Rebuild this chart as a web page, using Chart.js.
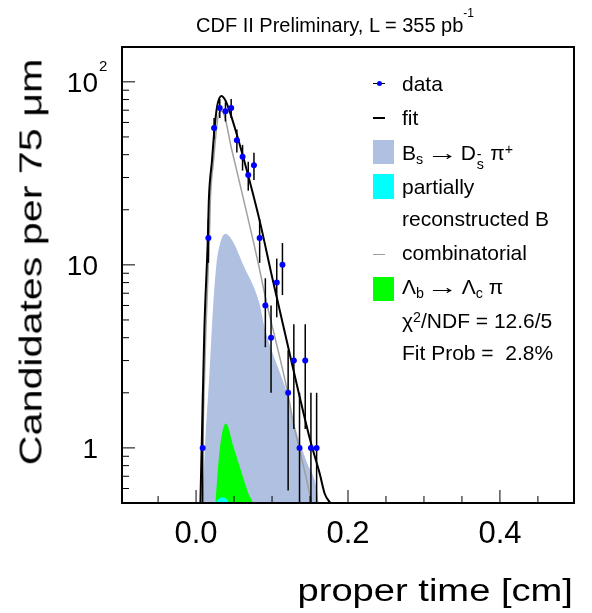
<!DOCTYPE html>
<html>
<head>
<meta charset="utf-8">
<script src="https://cdn.jsdelivr.net/npm/chart.js@4.4.0/dist/chart.umd.min.js"></script>
<style>
  html, body { margin: 0; padding: 0; background: #fff; }
  #wrap { position: relative; width: 592px; height: 613px; font-family: "Liberation Sans", Arial, sans-serif; color: #000; overflow: hidden; }
  #wrap canvas { position: absolute; left: 0; top: 0; }
  .txt { position: absolute; white-space: nowrap; line-height: 1; }
  .txt sub, .txt sup { line-height: 0; font-size: 0.68em; }
  .txt sub { vertical-align: -0.3em; }
  .txt sup { vertical-align: 0.45em; }
  .ss { display: inline-block; position: relative; width: 0.4em; }
  .ss .u { position: absolute; left: 0.05em; top: -0.95em; font-size: 0.68em; }
  .ss .d { position: absolute; left: 0.05em; top: -0.25em; font-size: 0.68em; }
  .arr { display: inline-block; transform: scaleX(1.5); margin: 0 0.12em; }
  .key { position: absolute; }
</style>
</head>
<body>
<div id="wrap"><canvas id="c" width="592" height="613"></canvas></div>
<script>
// ---- data (proper time in cm, candidates per 75 um bin) ----
const binT = [0.0087, 0.0162, 0.0237, 0.0312, 0.0387, 0.0462, 0.0537, 0.0612, 0.0687, 0.0762, 0.0837,
              0.0912, 0.0987, 0.1062, 0.1137, 0.1212, 0.1287, 0.1362, 0.1437, 0.1512, 0.1587];
const counts = [1, 14, 56, 72, 69, 72, 48, 39, 31, 35, 14, 6, 4, 8, 10, 2, 3, 1, 3, 1, 1];

// fit (total)
const fitT = [0.0045, 0.0057, 0.0079, 0.0109, 0.0155, 0.0168, 0.021, 0.0241, 0.0276, 0.0333, 0.0385,
              0.0451, 0.0539, 0.0626, 0.0836, 0.1003, 0.1253, 0.1503, 0.1629, 0.1695, 0.176, 0.19];
const fitN = [0.3, 0.5, 1.25, 4.4, 14, 22.5, 37.3, 54.5, 73, 83.8, 79.4,
              67.2, 51.1, 38.1, 17.5, 8.5, 3.0, 1.1, 0.72, 0.56, 0.505, 0.45];

// combinatorial background
const combT = [0.0052, 0.0066, 0.0092, 0.0129, 0.0175, 0.0188, 0.0231, 0.0267, 0.0302, 0.034, 0.0473,
               0.0526, 0.0628, 0.081, 0.0911, 0.1209, 0.1283, 0.1371, 0.148, 0.1525, 0.156];
const combN = [0.3, 0.5, 1.25, 4.4, 14, 22.5, 37.3, 54.5, 68, 69, 42,
               34, 22.5, 10.6, 6.7, 1.98, 1.35, 0.95, 0.6, 0.48, 0.35];

// Bs -> Ds pi signal
const bsT = [0.0072, 0.0083, 0.0122, 0.0175, 0.022, 0.0265, 0.031, 0.0385, 0.0477, 0.0626, 0.0823,
             0.0911, 0.1108, 0.1196, 0.1283, 0.145, 0.159, 0.1625];
const bsN = [0.4, 0.5, 1.1, 2.5, 5.5, 9.8, 12.8, 14.8, 13.6, 9.9, 6.4,
             4.4, 2.55, 2.0, 1.4, 0.85, 0.59, 0.45];

// partially reconstructed B
const prT = [0.024, 0.0263, 0.031, 0.035, 0.039, 0.0429, 0.045];
const prN = [0.45, 0.5, 0.53, 0.538, 0.53, 0.5, 0.45];

// Lambda_b -> Lambda_c pi
const lbT = [0.0235, 0.0254, 0.0297, 0.0342, 0.0394, 0.0494, 0.0605, 0.0691, 0.0749, 0.077];
const lbN = [0.4, 0.49, 0.855, 1.2, 1.36, 1.01, 0.72, 0.56, 0.49, 0.42];

// axis ticks
const xMajor = [0, 0.2, 0.4];
const xMajorLabels = ['0.0', '0.2', '0.4'];
const xMinor = [-0.05, 0.05, 0.1, 0.15, 0.25, 0.3, 0.35, 0.45];
const yMajor = [1, 10, 100];
const yMajorLabels = ['1', '10', '10'];
const yMinor = [0.6, 0.7, 0.8, 0.9, 2, 3, 4, 5, 6, 7, 8, 9, 20, 30, 40, 50, 60, 70, 80, 90];

// ---- helpers ----
const pts = (xs, ys) => xs.map((x, i) => ({ x: x, y: ys[i] }));

function curve(label, xs, ys, opts) {
    return Object.assign({
        type: 'line',
        label: label,
        data: pts(xs, ys),
        pointRadius: 0,
        borderWidth: 0,
        cubicInterpolationMode: 'monotone',
        fill: false
    }, opts);
}

// error bars drawn under the data dots
const errorBars = {
    id: 'errorBars',
    beforeDatasetDraw(chart, args) {
        if (args.index !== 0) return;
        const { ctx, chartArea: a, scales: { x, y } } = chart;
        ctx.save();
        ctx.beginPath();
        ctx.rect(a.left, a.top, a.width, a.height);
        ctx.clip();
        ctx.strokeStyle = '#000';
        ctx.lineWidth = 1.5;
        binT.forEach((t, i) => {
            const n = counts[i], e = Math.sqrt(n);
            const px = x.getPixelForValue(t);
            const lo = n - e > 0 ? y.getPixelForValue(n - e) : a.bottom;
            const hi = y.getPixelForValue(n + e);
            ctx.beginPath();
            ctx.moveTo(px, lo);
            ctx.lineTo(px, hi);
            ctx.stroke();
        });
        ctx.restore();
    }
};

// ROOT style frame with inward ticks
const frame = {
    id: 'frame',
    afterDraw(chart) {
        const { ctx, chartArea: a, scales: { x, y } } = chart;
        ctx.save();
        ctx.strokeStyle = '#000';
        ctx.lineWidth = 1;
        ctx.beginPath();
        xMajor.forEach(v => { const p = x.getPixelForValue(v); ctx.moveTo(p, a.bottom); ctx.lineTo(p, a.bottom - 13); });
        xMinor.forEach(v => { const p = x.getPixelForValue(v); ctx.moveTo(p, a.bottom); ctx.lineTo(p, a.bottom - 7); });
        yMajor.forEach(v => { const p = y.getPixelForValue(v); ctx.moveTo(a.left, p); ctx.lineTo(a.left + 13, p); });
        yMinor.forEach(v => { const p = y.getPixelForValue(v); ctx.moveTo(a.left, p); ctx.lineTo(a.left + 7, p); });
        ctx.stroke();

        ctx.lineWidth = 2;
        ctx.strokeRect(a.left, a.top, a.width, a.height);

        // tick labels
        ctx.fillStyle = '#000';
        ctx.font = '31px "Liberation Sans", Arial, sans-serif';
        ctx.textAlign = 'center';
        ctx.textBaseline = 'alphabetic';
        xMajor.forEach((v, i) => ctx.fillText(xMajorLabels[i], x.getPixelForValue(v), a.bottom + 40));

        ctx.font = '28px "Liberation Sans", Arial, sans-serif';
        ctx.textAlign = 'right';
        yMajor.forEach((v, i) => {
            const p = y.getPixelForValue(v);
            ctx.fillText(yMajorLabels[i], a.left - 24, p + 10);
            if (v === 100) {
                ctx.font = '15px "Liberation Sans", Arial, sans-serif';
                ctx.textAlign = 'left';
                ctx.fillText('2', a.left - 23, p - 11);
                ctx.font = '28px "Liberation Sans", Arial, sans-serif';
                ctx.textAlign = 'right';
            }
        });
        ctx.restore();
    }
};

const ctx = document.getElementById('c').getContext('2d');
new Chart(ctx, {
    type: 'scatter',
    data: {
        datasets: [
            { type: 'scatter', label: 'data', data: pts(binT, counts), pointRadius: 3,
              pointBackgroundColor: '#0000ff', pointBorderWidth: 0, order: 1 },
            curve('fit', fitT, fitN, { borderColor: '#000', borderWidth: 2, order: 2 }),
            curve('combinatorial', combT, combN, { borderColor: '#a0a0a0', borderWidth: 1.5, order: 3 }),
            curve('partially reconstructed B', prT, prN, { backgroundColor: '#00ffff', fill: 'start', order: 4 }),
            curve('Lambda_b', lbT, lbN, { backgroundColor: '#00ff00', fill: 'start', order: 5 }),
            curve('Bs', bsT, bsN, { backgroundColor: '#b0c0e0', fill: 'start', order: 6 })
        ]
    },
    options: {
        responsive: false,
        animation: false,
        events: [],
        layout: { padding: { left: 122, right: 18, top: 47, bottom: 110 } },
        plugins: { legend: { display: false }, tooltip: { enabled: false } },
        scales: {
            x: { type: 'linear', display: false, min: -0.0975, max: 0.4975 },
            y: { type: 'logarithmic', display: false, min: 0.5, max: 155 }
        }
    },
    plugins: [errorBars, frame]
});

// ---- text and legend (html) ----
const wrap = document.getElementById('wrap');

function addText(html, left, baseline, size, extra) {
    const d = document.createElement('div');
    d.className = 'txt';
    d.innerHTML = html;
    d.style.left = left + 'px';
    d.style.top = (baseline - 0.8465 * size) + 'px';
    d.style.fontSize = size + 'px';
    if (extra) Object.assign(d.style, extra);
    wrap.appendChild(d);
    return d;
}

function addKey(left, top, w, h, color) {
    const d = document.createElement('div');
    d.className = 'key';
    Object.assign(d.style, { left: left + 'px', top: top + 'px', width: w + 'px', height: h + 'px', background: color });
    wrap.appendChild(d);
}

// title
addText('CDF II Preliminary, L = 355 pb<span style="font-size:12px;vertical-align:15px;line-height:0">-1</span>', 196, 30, 20);

// axis titles
addText('proper time [cm]', 0, 601, 31, { left: 'auto', right: '19px', transform: 'scaleX(1.23)', transformOrigin: 'right center' });
const yt = addText('Candidates per 75 &mu;m', 0, 0, 31, {});
yt.style.left = '31px';
yt.style.top = '261.5px';
yt.style.transform = 'translate(-50%, -50%) rotate(-90deg) scaleX(1.33)';

// legend
const lx = 402, fs = 21;
addKey(372.5, 83, 12.5, 1, '#000');
const dot = document.createElement('div');
Object.assign(dot.style, { position: 'absolute', left: '376.5px', top: '81px', width: '5px', height: '5px', borderRadius: '50%', background: '#0000ff' });
wrap.appendChild(dot);
addText('data', lx, 90.7, fs);

addKey(372.5, 116.5, 12.5, 2, '#000');
addText('fit', lx, 124.3, fs);

addKey(372.5, 139.5, 21, 24.5, '#b0c0e0');
addText('B<sub>s</sub> <span class="arr">&rarr;</span> D<span class="ss"><span class="u">-</span><span class="d">s</span></span> &pi;<sup>+</sup>', lx, 160, fs);

addKey(372.5, 174, 21, 24.5, '#00ffff');
addText('partially', lx, 194, fs);
addText('reconstructed B', lx, 225.7, fs);

addKey(372.5, 253.5, 12.5, 1.5, '#a0a0a0');
addText('combinatorial', lx, 260, fs);

addKey(372.5, 276.5, 21, 24.5, '#00ff00');
addText('&Lambda;<sub>b</sub> <span class="arr">&rarr;</span> &Lambda;<sub>c</sub> &pi;', lx, 293.3, fs);

addText('&chi;<sup>2</sup>/NDF = 12.6/5', lx, 327.3, fs);
addText('Fit Prob = &nbsp;2.8%', lx, 359.3, fs);
</script>
</body>
</html>
